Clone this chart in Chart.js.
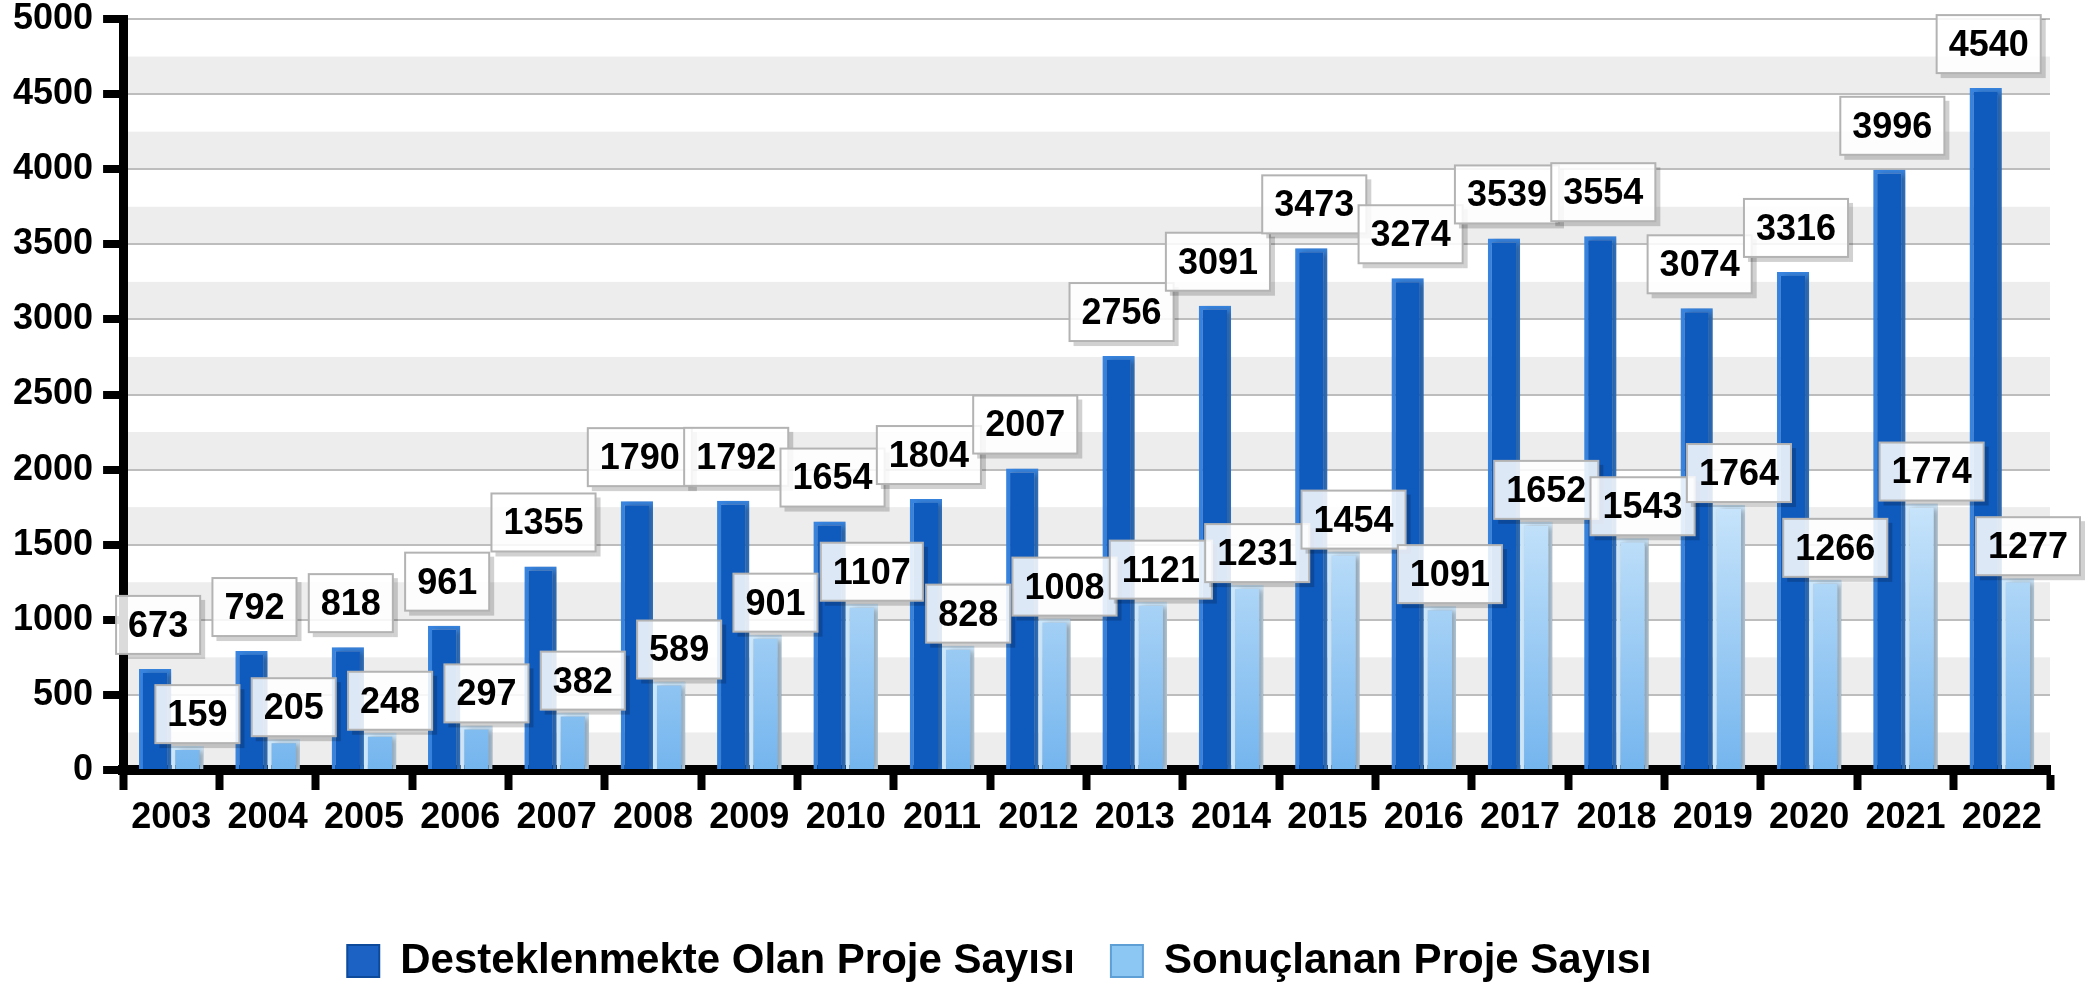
<!DOCTYPE html>
<html>
<head>
<meta charset="utf-8">
<script src="https://cdn.jsdelivr.net/npm/chart.js@4.4.1/dist/chart.umd.min.js"></script>
<style>
  html, body { margin: 0; padding: 0; background: #fff; }
  #wrap { width: 2092px; height: 992px; }
</style>
</head>
<body>
<div id="wrap"><canvas id="chart" width="2092" height="992"></canvas></div>
<script>
// Veriler
const years = ['2003', '2004', '2005', '2006', '2007', '2008', '2009', '2010', '2011', '2012',
               '2013', '2014', '2015', '2016', '2017', '2018', '2019', '2020', '2021', '2022'];
const desteklenen = [673, 792, 818, 961, 1355, 1790, 1792, 1654, 1804, 2007,
                     2756, 3091, 3473, 3274, 3539, 3554, 3074, 3316, 3996, 4540];
const sonuclanan = [159, 205, 248, 297, 382, 589, 901, 1107, 828, 1008,
                    1121, 1231, 1454, 1091, 1652, 1543, 1764, 1266, 1774, 1277];
const seriesNames = ['Desteklenmekte Olan Proje Sayısı', 'Sonuçlanan Proje Sayısı'];
const yMax = 5000;
const yLabelStep = 500;
const yGridStep = 250;

const FONT = '"Liberation Sans", Arial, sans-serif';
const ctx = document.getElementById('chart').getContext('2d');

// Açık mavi çubuklar için dikey gradyan
function lightFill(c) {
    const area = c.chart.chartArea;
    if (!area) return '#8cc6f3';
    const y = c.chart.scales.y;
    const g = c.chart.ctx.createLinearGradient(0, y.getPixelForValue(1800), 0, y.getPixelForValue(0));
    g.addColorStop(0, '#c9e5fb');
    g.addColorStop(1, '#74b5ee');
    return g;
}

// Arka plandaki gri şeritler
const bands = {
    id: 'bands',
    beforeDraw(chart) {
        const { ctx, chartArea, scales } = chart;
        ctx.save();
        ctx.fillStyle = '#ededed';
        for (let v = 0; v < yMax; v += yGridStep * 2) {
            const top = scales.y.getPixelForValue(v + yGridStep);
            const bottom = scales.y.getPixelForValue(v);
            ctx.fillRect(chartArea.left, top, chartArea.right - chartArea.left, bottom - top);
        }
        ctx.restore();
    }
};

// Çubuk gölgesi
const barShadow = {
    id: 'barShadow',
    beforeDatasetsDraw(chart) {
        const c = chart.ctx;
        c.save();
        c.shadowColor = 'rgba(0,0,0,0.3)';
        c.shadowOffsetX = 4;
        c.shadowOffsetY = 1;
        c.shadowBlur = 6;
    },
    afterDatasetsDraw(chart) {
        chart.ctx.restore();
    }
};

// Değer kutuları
const labelBoxes = {
    id: 'labelBoxes',
    afterDatasetsDraw(chart) {
        const c = chart.ctx;
        const metas = [chart.getDatasetMeta(0), chart.getDatasetMeta(1)];
        const place = [{ dx: 3, gap: 15 }, { dx: 10, gap: 3 }];
        c.save();
        c.font = 'bold 36px ' + FONT;
        c.textAlign = 'center';
        c.textBaseline = 'middle';
        years.forEach((yr, i) => {
            metas.forEach((meta, di) => {
                const bar = meta.data[i];
                const txt = String(chart.data.datasets[di].data[i]);
                const w = c.measureText(txt).width + 24;
                const h = 58;
                const x = bar.x + place[di].dx - w / 2;
                const y = bar.y - place[di].gap - h;
                c.fillStyle = 'rgba(0,0,0,0.18)';
                c.fillRect(x + w, y + 4, 5, h + 1);
                c.fillRect(x + 4, y + h, w - 4, 5);
                c.fillStyle = 'rgba(255,255,255,0.86)';
                c.fillRect(x, y, w, h);
                c.strokeStyle = '#b3b3b3';
                c.lineWidth = 2;
                c.strokeRect(x, y, w, h);
                c.fillStyle = '#000';
                c.fillText(txt, x + w / 2, y + h / 2 + 2);
            });
        });
        c.restore();
    }
};

// Lejantı sola kaydır
const legendShift = {
    id: 'legendShift',
    afterLayout(chart) {
        chart.legend.left -= 27;
        chart.legend.right -= 27;
    }
};

new Chart(ctx, {
    type: 'bar',
    data: {
        labels: years,
        datasets: [{
            label: seriesNames[0],
            data: desteklenen,
            backgroundColor: '#0f5abd',
            borderColor: '#3884df',
            borderWidth: 4,
            categoryPercentage: 0.67,
            barPercentage: 1
        }, {
            label: seriesNames[1],
            data: sonuclanan,
            backgroundColor: lightFill,
            borderColor: '#cde7fb',
            borderWidth: 4,
            categoryPercentage: 0.67,
            barPercentage: 1
        }]
    },
    options: {
        responsive: false,
        animation: false,
        devicePixelRatio: 1,
        layout: { padding: { left: 3, right: 42, top: 0, bottom: 0 } },
        plugins: {
            tooltip: { enabled: false },
            legend: {
                position: 'bottom',
                labels: {
                    boxWidth: 32,
                    boxHeight: 32,
                    padding: 36,
                    color: '#000',
                    font: { family: FONT, size: 42, weight: 'bold' },
                    generateLabels: () => [
                        { text: seriesNames[0], fillStyle: '#1b62c4', strokeStyle: '#0d4a9c', lineWidth: 2, datasetIndex: 0 },
                        { text: seriesNames[1], fillStyle: '#8cc6f3', strokeStyle: '#5e9fd6', lineWidth: 2, datasetIndex: 1 }
                    ]
                }
            }
        },
        scales: {
            x: {
                grid: {
                    drawOnChartArea: false,
                    drawTicks: true,
                    tickLength: 20,
                    tickWidth: 8,
                    tickColor: '#000'
                },
                border: { display: true, color: '#000', width: 10 },
                ticks: {
                    color: '#000',
                    padding: 6,
                    font: { family: FONT, size: 36, weight: 'bold' },
                    maxRotation: 0,
                    autoSkip: false
                },
                afterFit(scale) { scale.height = 134; }
            },
            y: {
                min: 0,
                max: yMax,
                grid: {
                    color: '#bdbdbd',
                    lineWidth: 2,
                    tickLength: 20,
                    tickWidth: 8,
                    tickColor: c => (c.tick && c.tick.value % yLabelStep === 0) ? '#000' : 'rgba(0,0,0,0)'
                },
                border: { display: true, color: '#000', width: 9 },
                ticks: {
                    stepSize: yGridStep,
                    color: '#000',
                    padding: 10,
                    font: { family: FONT, size: 36, weight: 'bold' },
                    callback: v => (v % yLabelStep === 0 ? v : '')
                },
                afterFit(scale) { scale.paddingTop = 19; }
            }
        }
    },
    plugins: [bands, barShadow, labelBoxes, legendShift]
});
</script>
</body>
</html>
